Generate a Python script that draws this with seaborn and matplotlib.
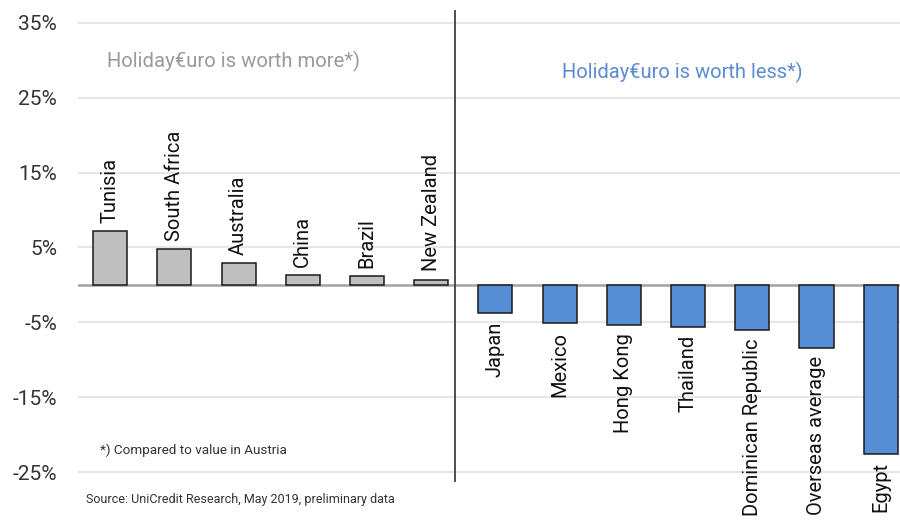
import matplotlib
matplotlib.use("Agg")
import matplotlib.pyplot as plt
import seaborn as sns
import pandas as pd

# values (percent change of the Holiday Euro vs Austria)
countries = ["Tunisia", "South Africa", "Australia", "China", "Brazil", "New Zealand",
             "Japan", "Mexico", "Hong Kong", "Thailand", "Dominican Republic",
             "Overseas average", "Egypt"]
values = [7.2, 4.8, 2.9, 1.3, 1.2, 0.7, -3.8, -5.1, -5.3, -5.6, -6.0, -8.4, -22.5]
yticks = [-25, -15, -5, 5, 15, 25, 35]

GREY = "#BFBFBF"
BLUE = "#558ED5"

sns.set_theme(style="white")
plt.rcParams["font.family"] = ["Roboto", "DejaVu Sans"]

df = pd.DataFrame({"country": countries, "value": values})
df["side"] = ["more" if v > 0 else "less" for v in values]

fig = plt.figure(figsize=(9, 5.24), dpi=100)
ax = fig.add_axes([78 / 900, 1 - 482 / 524, 822 / 900, 472 / 524])

for t in yticks:
    ax.axhline(t, color="#E6E6E6", lw=1.5, zorder=0)
ax.axhline(0, color="#A3A3A3", lw=1.8, zorder=0.5)

sns.barplot(data=df, x="country", y="value", hue="side",
            palette={"more": GREY, "less": BLUE}, width=0.53, dodge=False,
            saturation=1, edgecolor="#1a1a1a", linewidth=1.1, legend=False,
            ax=ax, zorder=2)

ax.set_xlim(-0.5, 12.3)
ax.set_ylim(-26.3, 36.7)
ax.set_yticks(yticks)
ax.set_yticklabels([f"{t}%" for t in yticks], fontsize=15, color="#333333")
ax.tick_params(axis="y", length=0, pad=15)
ax.set_xticks([])
ax.set_xlabel("")
ax.set_ylabel("")
for s in ax.spines.values():
    s.set_visible(False)

# divider between the two groups
ax.axvline(5.37, color="#404040", lw=1.3, zorder=3)

# category labels next to the bar ends
for i, (c, v) in enumerate(zip(countries, values)):
    if v > 0:
        ax.annotate(c, (i, v), xytext=(0, 6), textcoords="offset points",
                    rotation=90, ha="center", va="bottom", fontsize=14.5, color="#111111")
    else:
        ax.annotate(c, (i, v), xytext=(0, -6), textcoords="offset points",
                    rotation=90, ha="center", va="top", fontsize=14.5, color="#111111")

fig.text(107 / 900, 1 - 61 / 524, "Holiday€uro is worth more*)", fontsize=14.6,
         color="#9A9A9A", ha="left", va="center")
fig.text(562 / 900, 1 - 72 / 524, "Holiday€uro is worth less*)", fontsize=14.5,
         color="#5B8BD0", ha="left", va="center")
fig.text(100 / 900, 1 - 450 / 524, "*) Compared to value in Austria", fontsize=9.7,
         color="#333333", ha="left", va="center")
fig.text(86 / 900, 1 - 500 / 524, "Source: UniCredit Research, May 2019, preliminary data",
         fontsize=9, color="#333333", ha="left", va="center")

fig.savefig("out.png", dpi=100)
